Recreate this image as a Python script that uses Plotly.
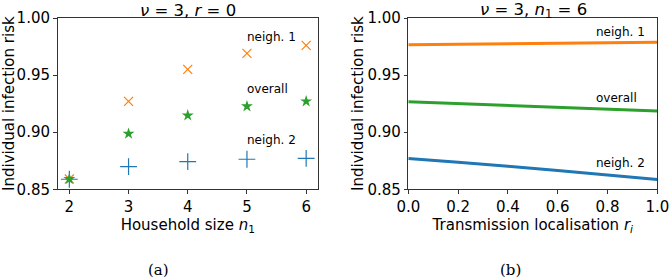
import plotly.graph_objects as go

# Panel (a) data
household_size = [2, 3, 4, 5, 6]
neigh1_a = [0.859, 0.927, 0.955, 0.969, 0.976]
overall_a = [0.859, 0.8987, 0.9147, 0.9227, 0.927]
neigh2_a = [0.8588, 0.8698, 0.8742, 0.8763, 0.8771]

# Panel (b) data
r_loc = [0.0, 0.2, 0.4, 0.6, 0.8, 1.0]
neigh1_b = [0.9765, 0.9770, 0.9774, 0.9779, 0.9783, 0.9787]
overall_b = [0.9266, 0.9250, 0.9234, 0.9218, 0.9202, 0.9186]
neigh2_b = [0.8770, 0.8737, 0.8702, 0.8665, 0.8626, 0.8586]

BLUE = "#1f77b4"
ORANGE = "#ff7f0e"
GREEN = "#2ca02c"
FONT = "DejaVu Sans"
W, H = 669, 279

fig = go.Figure()

fig.add_trace(go.Scatter(x=household_size, y=neigh2_a, mode="markers", xaxis="x", yaxis="y",
                         marker=dict(symbol="cross-thin", size=12, line=dict(color=BLUE, width=1.2)),
                         showlegend=False))
fig.add_trace(go.Scatter(x=household_size, y=neigh1_a, mode="markers", xaxis="x", yaxis="y",
                         marker=dict(symbol="x-thin", size=9, line=dict(color=ORANGE, width=1.2)),
                         showlegend=False))
fig.add_trace(go.Scatter(x=household_size, y=overall_a, mode="markers", xaxis="x", yaxis="y",
                         marker=dict(symbol="star", size=9, color=GREEN, line=dict(width=0)),
                         showlegend=False))

fig.add_trace(go.Scatter(x=r_loc, y=neigh2_b, mode="lines", xaxis="x2", yaxis="y2",
                         line=dict(color=BLUE, width=3, shape="spline"), showlegend=False))
fig.add_trace(go.Scatter(x=r_loc, y=neigh1_b, mode="lines", xaxis="x2", yaxis="y2",
                         line=dict(color=ORANGE, width=3), showlegend=False))
fig.add_trace(go.Scatter(x=r_loc, y=overall_b, mode="lines", xaxis="x2", yaxis="y2",
                         line=dict(color=GREEN, width=3), showlegend=False))

axis_common = dict(showgrid=False, zeroline=False, showline=True, linecolor="#333333",
                   linewidth=1, mirror=True, ticks="outside", ticklen=3.5, tickwidth=1,
                   tickcolor="#333333", tickfont=dict(family=FONT, size=15, color="black"),
                   automargin=False, ticklabeloverflow="allow")
title_font = dict(family=FONT, size=15, color="black")

ydom = [1 - 189.3 / H, 1 - 18 / H]
fig.update_layout(
    width=W, height=H, margin=dict(l=0, r=0, t=0, b=0),
    plot_bgcolor="white", paper_bgcolor="white",
    xaxis=dict(domain=[57.5 / W, 318 / W], range=[1.8, 6.2], tickvals=household_size,
               title=dict(text="Household size <i>n</i><sub>1</sub>", font=title_font, standoff=0),
               **axis_common),
    yaxis=dict(domain=ydom, range=[0.85, 1.0], tickvals=[0.85, 0.9, 0.95, 1.0], tickformat=".2f",
               title=dict(text="Individual infection risk", font=title_font, standoff=0),
               **axis_common),
    xaxis2=dict(domain=[408.3 / W, 657.3 / W], range=[0, 1], tickvals=[0, 0.2, 0.4, 0.6, 0.8, 1.0], tickformat=".1f",
                anchor="y2",
                title=dict(text="Transmission localisation <i>r</i><sub><i>i</i></sub>", font=title_font, standoff=0),
                **axis_common),
    yaxis2=dict(domain=ydom, range=[0.85, 1.0], tickvals=[0.85, 0.9, 0.95, 1.0], tickformat=".2f",
                anchor="x2",
                title=dict(text="Individual infection risk", font=title_font, standoff=0),
                **axis_common),
)

def px_ann(x, y, text, size=12, family=FONT, xanchor="left"):
    fig.add_annotation(x=x / W, y=1 - y / H, xref="paper", yref="paper", text=text, showarrow=False,
                       xanchor=xanchor, yanchor="middle", borderpad=0,
                       font=dict(family=family, size=size, color="black"))

px_ann(188, 10, "<i>ν</i> = 3, <i>r</i> = 0", size=16.5, xanchor="center")
px_ann(533, 10, "<i>ν</i> = 3, <i>n</i><sub>1</sub> = 6", size=16.5, xanchor="center")

px_ann(246, 37, "neigh. 1")
px_ann(246, 89, "overall")
px_ann(246, 140, "neigh. 2")
px_ann(595, 32, "neigh. 1")
px_ann(595, 98, "overall")
px_ann(595, 163, "neigh. 2")

px_ann(158, 270, "(a)", size=15, family="DejaVu Serif", xanchor="center")
px_ann(510, 270, "(b)", size=15, family="DejaVu Serif", xanchor="center")

fig.write_html("out.html", config={"displayModeBar": False},
               post_script="document.body.style.margin='0px';")
